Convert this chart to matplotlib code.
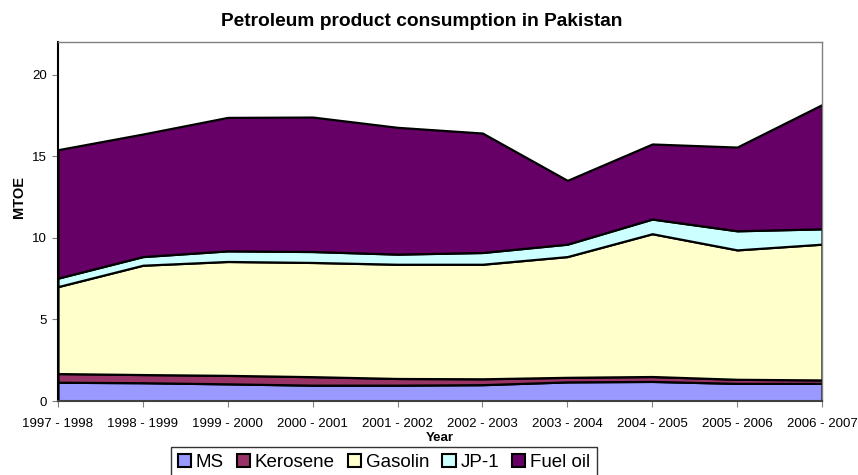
import matplotlib
matplotlib.use("Agg")
import matplotlib.pyplot as plt
from matplotlib.patches import Patch

plt.rcParams['font.family'] = ['Liberation Sans', 'DejaVu Sans']

years = ["1997 - 1998", "1998 - 1999", "1999 - 2000", "2000 - 2001", "2001 - 2002",
         "2002 - 2003", "2003 - 2004", "2004 - 2005", "2005 - 2006", "2006 - 2007"]
ms       = [1.15, 1.12, 1.05, 0.97, 0.97, 1.00, 1.17, 1.20, 1.08, 1.08]
kerosene = [0.53, 0.50, 0.52, 0.52, 0.41, 0.36, 0.28, 0.30, 0.25, 0.21]
gasolin  = [5.33, 6.70, 6.98, 7.00, 7.00, 7.02, 7.40, 8.75, 7.93, 8.32]
jp1      = [0.52, 0.53, 0.65, 0.67, 0.62, 0.72, 0.76, 0.90, 1.17, 0.94]
fuel_oil = [7.87, 7.51, 8.18, 8.24, 7.77, 7.32, 3.91, 4.60, 5.13, 7.61]

series_names = ["MS", "Kerosene", "Gasolin", "JP-1", "Fuel oil"]
colors = ["#9999FF", "#993366", "#FFFFCC", "#CCFFFF", "#660066"]

fig = plt.figure(figsize=(8.58, 4.75), dpi=100)
ax = fig.add_axes([58/858, 1 - 401/475, (822-58)/858, (401-42)/475])

x = list(range(len(years)))
ax.stackplot(x, ms, kerosene, gasolin, jp1, fuel_oil, colors=colors,
             edgecolor="black", linewidth=1.6)

ax.set_xlim(0, len(years) - 1)
ax.set_ylim(0, 22)
ax.set_yticks([0, 5, 10, 15, 20])
ax.set_xticks(x)
ax.set_xticklabels(years)
ax.tick_params(axis='x', labelsize=9.5, direction='out', length=4, color='#808080', pad=8)
ax.tick_params(axis='y', labelsize=9.5, direction='out', length=4, color='#808080', pad=4)

for s in ['top', 'right']:
    ax.spines[s].set_color('#808080')
    ax.spines[s].set_linewidth(1.0)
ax.spines['left'].set_color('black')
ax.spines['left'].set_linewidth(1.5)
ax.spines['bottom'].set_color('#404040')
ax.spines['bottom'].set_linewidth(1.5)

fig.text(422/858, 1 - 22/475, "Petroleum product consumption in Pakistan",
         ha='center', va='center', fontsize=13.8, fontweight='bold')
fig.text(19/858, 1 - 197/475, "MTOE", rotation=90, ha='center', va='center',
         fontsize=10.5, fontweight='bold')
fig.text(440/858, 1 - 438/475, "Year", ha='center', va='center',
         fontsize=9.5, fontweight='bold')

handles = [Patch(facecolor=c, edgecolor='black', linewidth=1.5) for c in colors]
leg = fig.legend(handles, series_names, loc='upper center', ncol=5,
                 bbox_to_anchor=(384/858, 1 - 447/475), fontsize=13.5, frameon=True,
                 fancybox=False, edgecolor='black', handlelength=0.7, handleheight=0.7,
                 handletextpad=0.25, columnspacing=0.7, borderpad=0.35, borderaxespad=0)
leg.get_frame().set_linewidth(1.0)

fig.savefig("out.png", dpi=100)
